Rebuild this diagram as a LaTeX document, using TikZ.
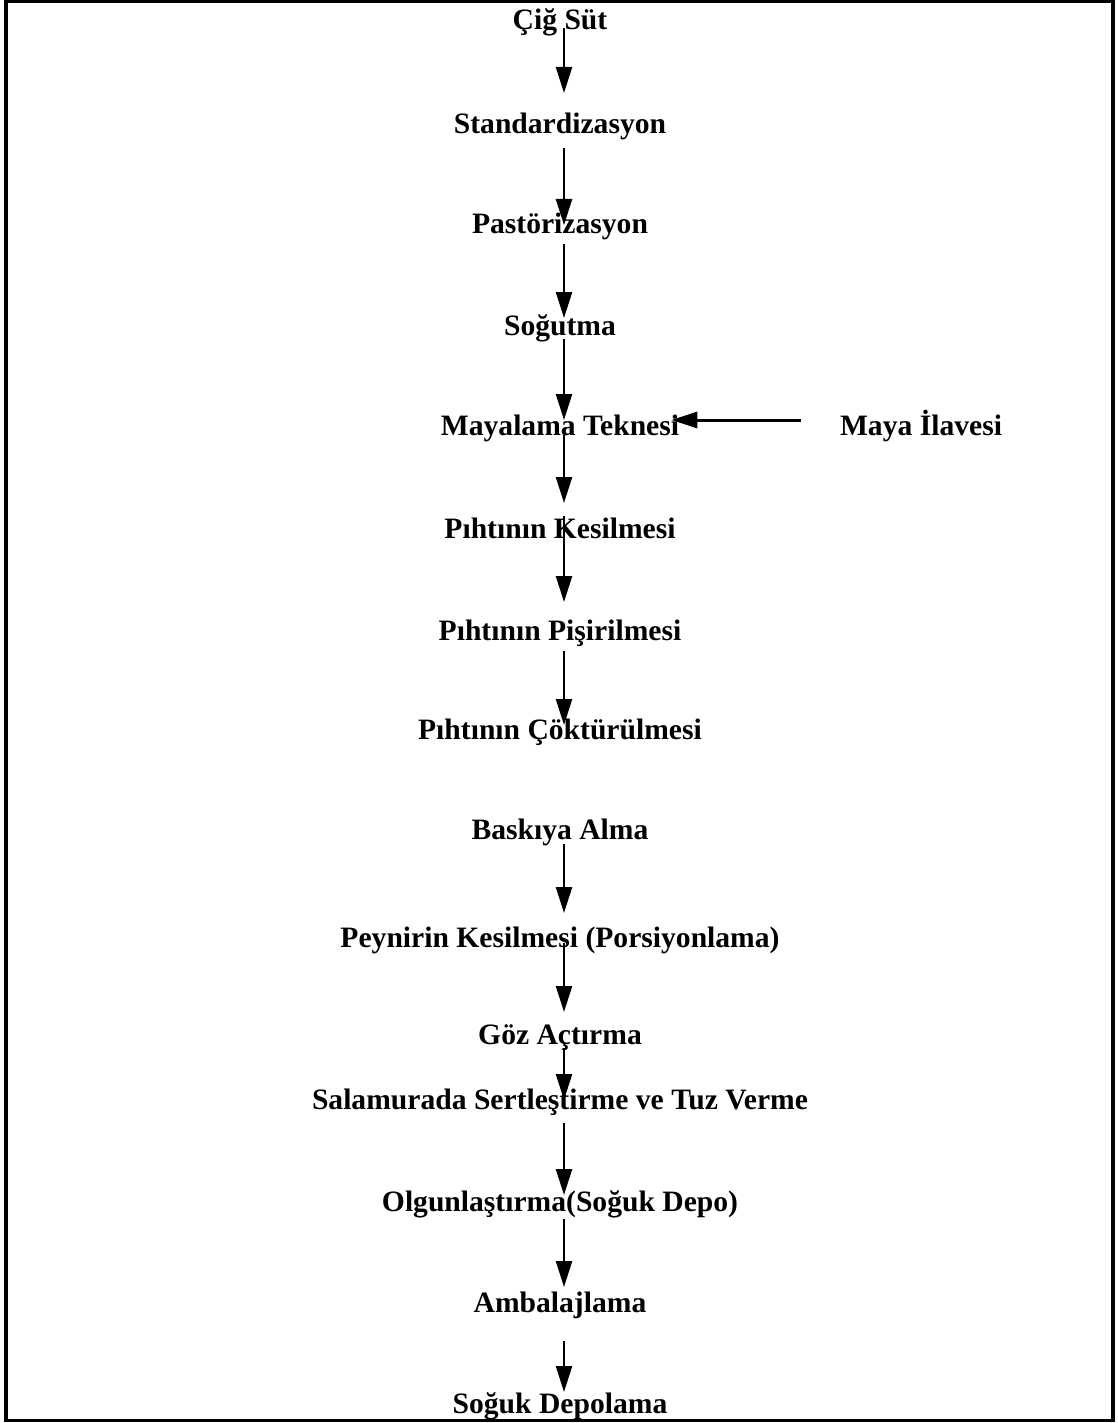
\documentclass[tikz,border=0pt]{standalone}
\usepackage{fontspec}
\setmainfont{Liberation Serif}
\usetikzlibrary{arrows.meta}
\begin{document}
\begin{tikzpicture}[x=1pt,y=-1pt,
  lbl/.style={anchor=base,inner sep=0pt,font=\fontsize{29.6}{34}\selectfont\bfseries},
  arr/.style={line width=2.5pt,-{Triangle[width=16pt,length=26pt]}}]
\useasboundingbox (0,0) rectangle (1117,1423);
\draw[line width=3.5pt] (6,1.5) rectangle (1113,1420.5);
\node[lbl] (n1) at (560,30) {Çiğ Süt};
\node[lbl] (n2) at (560,134) {Standardizasyon};
\node[lbl] (n3) at (560,234) {Pastörizasyon};
\node[lbl] (n4) at (560,335) {Soğutma};
\node[lbl] (n5) at (560,435) {Mayalama Teknesi};
\node[lbl] (m) at (921,435) {Maya İlavesi};
\node[lbl] (n6) at (560,538) {Pıhtının Kesilmesi};
\node[lbl] (n7) at (560,640) {Pıhtının Pişirilmesi};
\node[lbl] (n8) at (560,739) {Pıhtının Çöktürülmesi};
\node[lbl] (n9) at (560,839) {Baskıya Alma};
\node[lbl] (n10) at (560,947) {Peynirin Kesilmesi (Porsiyonlama)};
\node[lbl] (n11) at (560,1044) {Göz Açtırma};
\node[lbl] (n12) at (560,1109) {Salamurada Sertleştirme ve Tuz Verme};
\node[lbl] (n13) at (560,1211) {Olgunlaştırma(Soğuk Depo)};
\node[lbl] (n14) at (560,1312) {Ambalajlama};
\node[lbl] (n15) at (560,1413) {Soğuk Depolama};
\draw[arr] ([xshift=4pt,yshift=2pt]n1.base) -- ([xshift=4pt,yshift=41pt]n2.base);
\draw[arr] ([xshift=4pt,yshift=-14pt]n2.base) -- ([xshift=4pt,yshift=9pt]n3.base);
\draw[arr] ([xshift=4pt,yshift=-10pt]n3.base) -- ([xshift=4pt,yshift=17pt]n4.base);
\draw[arr] ([xshift=4pt,yshift=-4pt]n4.base) -- ([xshift=4pt,yshift=15pt]n5.base);
\draw[arr] ([xshift=4pt,yshift=0pt]n5.base) -- ([xshift=4pt,yshift=35pt]n6.base);
\draw[arr] ([xshift=4pt,yshift=22pt]n6.base) -- ([xshift=4pt,yshift=38pt]n7.base);
\draw[arr] ([xshift=4pt,yshift=-11pt]n7.base) -- ([xshift=4pt,yshift=14pt]n8.base);
\draw[arr] ([xshift=4pt,yshift=-5pt]n9.base) -- ([xshift=4pt,yshift=34pt]n10.base);
\draw[arr] ([xshift=4pt,yshift=4pt]n10.base) -- ([xshift=4pt,yshift=32pt]n11.base);
\draw[arr] ([xshift=4pt,yshift=-4pt]n11.base) -- ([xshift=4pt,yshift=9pt]n12.base);
\draw[arr] ([xshift=4pt,yshift=-14pt]n12.base) -- ([xshift=4pt,yshift=16pt]n13.base);
\draw[arr] ([xshift=4pt,yshift=-8pt]n13.base) -- ([xshift=4pt,yshift=25pt]n14.base);
\draw[arr] ([xshift=4pt,yshift=-29pt]n14.base) -- ([xshift=4pt,yshift=21pt]n15.base);
\draw[arr,line width=3pt] ([xshift=-39pt,yshift=15pt]m.base west) -- ([xshift=-8pt,yshift=15pt]n5.base east);
\end{tikzpicture}
\end{document}
